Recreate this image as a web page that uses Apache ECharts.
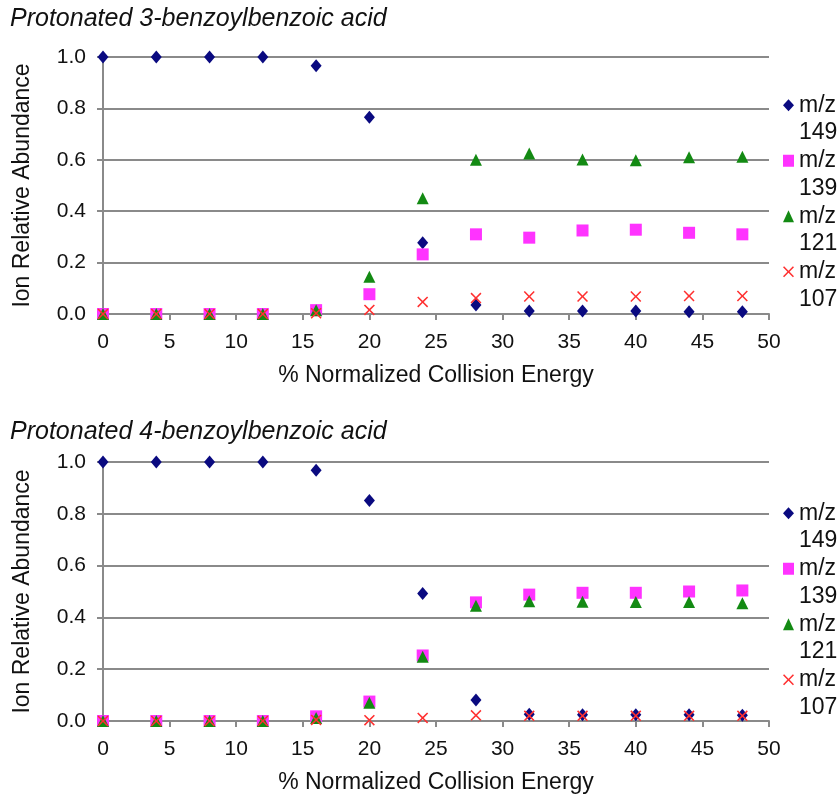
<!DOCTYPE html>
<html>
<head>
<meta charset="utf-8">
<script src="https://cdn.jsdelivr.net/npm/echarts@6/dist/echarts.min.js"></script>
<style>html,body{margin:0;padding:0;background:#fff;}#c{width:839px;height:795px;}</style>
</head>
<body>
<div id="c"></div>
<script>
// ---- data ----
const energy = [0, 4, 8, 12, 16, 20, 24, 28, 32, 36, 40, 44, 48];
const seriesNames = ['m/z 149', 'm/z 139', 'm/z 121', 'm/z 107'];
const titles = ['Protonated 3-benzoylbenzoic acid', 'Protonated 4-benzoylbenzoic acid'];
const xAxisName = '% Normalized Collision Energy';
const yAxisName = 'Ion Relative Abundance';

const top149 = [1.0, 1.0, 1.0, 1.0, 0.966, 0.766, 0.277, 0.035, 0.012, 0.012, 0.012, 0.009, 0.009];
const top139 = [0, 0, 0, 0, 0.015, 0.077, 0.232, 0.310, 0.297, 0.325, 0.328, 0.316, 0.310];
const top121 = [0, 0, 0, 0, 0.015, 0.145, 0.450, 0.600, 0.625, 0.601, 0.598, 0.610, 0.612];
const top107 = [0, 0, 0, 0, 0.003, 0.016, 0.047, 0.062, 0.068, 0.068, 0.068, 0.070, 0.070];

const bot149 = [1.0, 1.0, 1.0, 1.0, 0.968, 0.851, 0.492, 0.081, 0.026, 0.024, 0.024, 0.024, 0.022];
const bot139 = [0, 0, 0, 0, 0.018, 0.075, 0.253, 0.458, 0.488, 0.495, 0.495, 0.500, 0.504];
const bot121 = [0, 0, 0, 0, 0.012, 0.070, 0.248, 0.445, 0.462, 0.460, 0.459, 0.459, 0.455];
const bot107 = [0, 0, 0, 0, 0.004, 0.003, 0.012, 0.022, 0.020, 0.020, 0.020, 0.020, 0.020];

// ---- styles ----
const FONT = '"Liberation Sans", Arial, Helvetica, sans-serif';
const GRAY = '#8a8a8a';
const styles = [
  { symbol: 'diamond', size: [11, 13], color: '#0a0a80' },
  { symbol: 'rect', size: 12, color: '#ff33ff' },
  { symbol: 'triangle', size: 12, color: '#138a13' },
  { symbol: 'path://M1,0 L5,4 L9,0 L10,1 L6,5 L10,9 L9,10 L5,6 L1,10 L0,9 L4,5 L0,1 Z', size: 11, color: '#ff3030' }
];
const panels = [[top149, top139, top121, top107], [bot149, bot139, bot121, bot107]];

function xAxis(i) {
  return {
    gridIndex: i, type: 'value', min: 0, max: 50, interval: 5,
    name: xAxisName, nameLocation: 'middle', nameGap: 50,
    nameTextStyle: { fontFamily: FONT, fontSize: 23, color: '#111' },
    axisLine: { show: true, lineStyle: { color: GRAY, width: 2 } },
    axisTick: { show: true, length: 6, lineStyle: { color: GRAY, width: 2 } },
    axisLabel: { fontFamily: FONT, fontSize: 21, color: '#111', margin: 18 },
    splitLine: { show: false }
  };
}
function yAxis(i) {
  return {
    gridIndex: i, type: 'value', min: 0, max: 1, interval: 0.2,
    name: yAxisName, nameLocation: 'middle', nameGap: 69,
    nameTextStyle: { fontFamily: FONT, fontSize: 23, color: '#111' },
    axisLine: { show: true, lineStyle: { color: GRAY, width: 2 } },
    axisTick: { show: true, length: 6, lineStyle: { color: GRAY, width: 2 } },
    axisLabel: { fontFamily: FONT, fontSize: 21, color: '#111', margin: 17, formatter: v => v.toFixed(1) },
    splitLine: { show: true, lineStyle: { color: GRAY, width: 2 } }
  };
}

const series = [];
panels.forEach((vals, g) => {
  vals.forEach((arr, k) => {
    series.push({
      type: 'scatter', name: seriesNames[k], xAxisIndex: g, yAxisIndex: g,
      symbol: styles[k].symbol, symbolSize: styles[k].size,
      itemStyle: { color: styles[k].color, opacity: 1 },
      emphasis: { disabled: true },
      data: energy.map((x, j) => [x, arr[j]])
    });
  });
});

function legend(top) {
  return {
    orient: 'vertical', left: 783, top: top, padding: 0,
    itemWidth: 11, itemHeight: 12, itemGap: -27,
    data: seriesNames,
    formatter: n => '\n' + n.replace(' ', '\n'),
    textStyle: { fontFamily: FONT, fontSize: 23, color: '#111', lineHeight: 27.5 },
    selectedMode: false
  };
}

const option = {
  animation: false,
  backgroundColor: '#fff',
  title: [
    { text: titles[0], left: 10, top: 7, padding: 0, textStyle: { fontFamily: FONT, fontSize: 25, fontStyle: 'italic', fontWeight: 'normal', color: '#111' } },
    { text: titles[1], left: 10, top: 420, padding: 0, textStyle: { fontFamily: FONT, fontSize: 25, fontStyle: 'italic', fontWeight: 'normal', color: '#111' } }
  ],
  grid: [
    { left: 103, right: 70, top: 57, height: 257 },
    { left: 103, right: 70, top: 462, height: 260 }
  ],
  xAxis: [xAxis(0), xAxis(1)],
  yAxis: [yAxis(0), yAxis(1)],
  legend: [legend(64), legend(472)],
  series: series
};

echarts.init(document.getElementById('c'), null, { renderer: 'canvas' }).setOption(option);
</script>
</body>
</html>
